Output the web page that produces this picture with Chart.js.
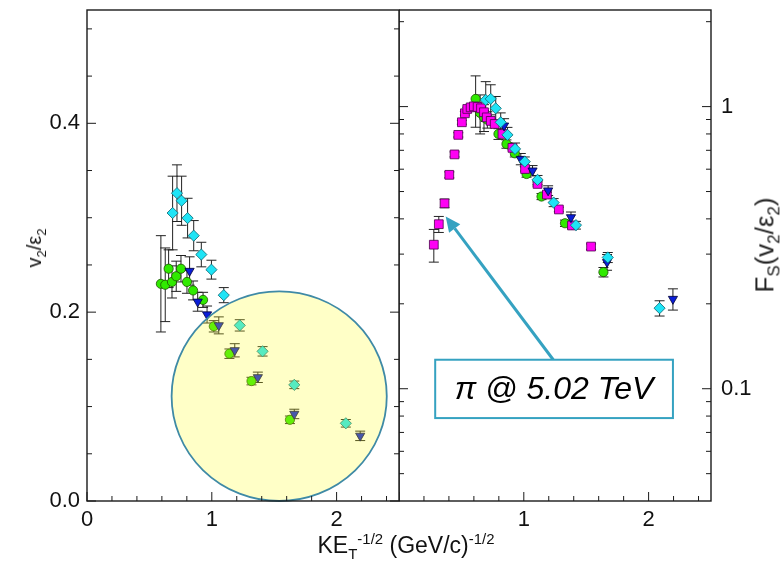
<!DOCTYPE html>
<html>
<head>
<meta charset="utf-8">
<title>v2/eps2 scaling</title>
<script src="https://cdn.jsdelivr.net/npm/chart.js@4.4.1/dist/chart.umd.min.js"></script>
<style>
  body { margin: 0; background: #fff; }
  #wrap { position: relative; width: 781px; height: 577px; font-family: "Liberation Sans", Arial, sans-serif; color: #111; }
  #wrap canvas { position: absolute; top: 0; }
  .lab { position: absolute; white-space: nowrap; line-height: 1.2; }
  .lab sub, .lab sup { font-size: 0.65em; line-height: 0; }
  .rot { transform: translate(-50%, -50%) rotate(-90deg); }
</style>
</head>
<body>
<div id="wrap">
  <canvas id="leftPanel" width="400" height="577" style="left:0"></canvas>
  <canvas id="rightPanel" width="382" height="577" style="left:399px"></canvas>
  <div class="lab rot" style="left:34px; top:248px; font-size:20px">v<sub>2</sub>/ε<sub>2</sub></div>
  <div class="lab rot" style="left:765px; top:245px; font-size:26px; color:#222">F<sub>S</sub>(v<sub>2</sub>/ε<sub>2</sub>)</div>
  <div class="lab" style="left:256px; top:532px; width:300px; text-align:center; font-size:23px">KE<sub>T</sub><sup>-1/2</sup> (GeV/c)<sup>-1/2</sup></div>
</div>
<script>
// --- Axis ticks ---
const xMajorTicks = [0, 1, 2];
const xMinorTicks = [0.2, 0.4, 0.6, 0.8, 1.2, 1.4, 1.6, 1.8, 2.2, 2.4];
const yLinMajor = [0, 0.2, 0.4];
const yLinMinor = [0.05, 0.1, 0.15, 0.25, 0.3, 0.35, 0.45, 0.5];
const yLogMajor = [0.1, 1];
const yLogMinor = [0.05, 0.06, 0.07, 0.08, 0.09, 0.2, 0.3, 0.4, 0.5, 0.6, 0.7, 0.8, 0.9, 2];

// --- Left panel: v2/eps2 vs KE_T^-1/2 ---
const greenX = [0.592, 0.627, 0.654, 0.681, 0.715, 0.753, 0.801, 0.850, 0.930, 1.016, 1.141, 1.318, 1.626];
const greenY = [0.230, 0.229, 0.246, 0.232, 0.238, 0.246, 0.232, 0.223, 0.213, 0.185, 0.156, 0.127, 0.086];
const greenErr = [0.051, 0.039, 0.02, 0.017, 0.016, 0.014, 0.012, 0.01, 0.008, 0.006, 0.005, 0.004, 0.004];

const blueX = [0.822, 0.887, 0.962, 1.056, 1.184, 1.369, 1.661, 2.189];
const blueY = [0.2436, 0.211, 0.1975, 0.186, 0.1596, 0.131, 0.0922, 0.069];
const blueErr = [0.015, 0.01, 0.009, 0.009, 0.007, 0.0055, 0.005, 0.005];

const cyanX = [0.686, 0.721, 0.758, 0.806, 0.855, 0.916, 0.997, 1.096, 1.224, 1.407, 1.661, 2.074];
const cyanY = [0.305, 0.326, 0.318, 0.2996, 0.281, 0.261, 0.245, 0.218, 0.186, 0.1585, 0.123, 0.0823];
const cyanErr = [0.039, 0.03, 0.026, 0.021, 0.016, 0.013, 0.01, 0.008, 0.006, 0.005, 0.004, 0.004];

// --- Right panel: scaled F_S(v2/eps2), log scale ---
const magentaX = [0.279, 0.319, 0.365, 0.403, 0.445, 0.475, 0.504, 0.528, 0.547, 0.574, 0.600, 0.630, 0.657,
                  0.681, 0.703, 0.735, 0.767, 0.829, 0.909, 1.010, 1.110, 1.185, 1.281, 1.386, 1.539];
const magentaY = [0.324, 0.383, 0.454, 0.573, 0.677, 0.794, 0.880, 0.947, 0.981, 0.994, 1.002, 0.997, 0.986,
                  0.955, 0.916, 0.890, 0.868, 0.800, 0.714, 0.601, 0.532, 0.488, 0.432, 0.379, 0.319];
const magentaErr = [0.043, 0.025, 0.016, 0.014, 0.014, 0.014, 0.014, 0.014, 0.014, 0.014, 0.014, 0.014, 0.014,
                    0.014, 0.014, 0.013, 0.013, 0.012, 0.011, 0.01, 0.009, 0.009, 0.008, 0.008, 0.007];

const greenRX = [0.614, 0.650, 0.681, 0.708, 0.797, 0.861, 0.928, 1.022, 1.142, 1.330, 1.638];
const greenRY = [1.065, 0.950, 0.916, 0.899, 0.800, 0.737, 0.683, 0.577, 0.480, 0.386, 0.259];
const greenRErr = [0.22, 0.15, 0.1, 0.06, 0.035, 0.025, 0.02, 0.015, 0.012, 0.01, 0.01];

const cyanRX = [0.695, 0.735, 0.775, 0.815, 0.869, 0.930, 1.008, 1.110, 1.239, 1.418, 1.673, 2.088];
const cyanRY = [1.056, 1.065, 0.986, 0.880, 0.794, 0.708, 0.638, 0.550, 0.457, 0.380, 0.292, 0.193];
const cyanRErr = [0.17, 0.13, 0.1, 0.07, 0.05, 0.035, 0.025, 0.02, 0.015, 0.012, 0.012, 0.012];

const blueRX = [0.842, 0.976, 1.070, 1.195, 1.378, 1.667, 2.195];
const blueRY = [0.856, 0.652, 0.593, 0.504, 0.405, 0.281, 0.208];
const blueRErr = [0.05, 0.03, 0.025, 0.02, 0.018, 0.018, 0.018];

// Highlight ellipse (left panel, data units) and annotation (right panel, data units)
const ringCenter = [1.54, 0.111];
const ringRadius = [0.862, 0.111];
const noteBox = { x0: 0.29, x1: 2.195, y0: 0.0787, y1: 0.1267 };
const noteText = 'π @ 5.02 TeV';
const arrowFrom = [1.236, 0.1267];
const arrowTo = [0.374, 0.408];

const FONT = '"Liberation Sans", Arial, sans-serif';

function toPoints(xs, ys) {
    return xs.map((x, i) => ({ x: x, y: ys[i] }));
}

function series(xs, ys, errs, style) {
    return Object.assign({ data: toPoints(xs, ys), errors: errs, borderWidth: 0.8 }, style);
}

const GREEN = { pointStyle: 'circle', pointRadius: 4.6, backgroundColor: '#30ea00', borderColor: '#1d5200', order: 3 };
const BLUE = { pointStyle: 'triangle', rotation: 180, pointRadius: 5.3, backgroundColor: '#0a1ed8', borderColor: '#000033', order: 1 };
const CYAN = { pointStyle: 'rectRot', pointRadius: 5.6, backgroundColor: '#1ee4f6', borderColor: '#0b6470', order: 0 };
const MAGENTA = { pointStyle: 'rect', pointRadius: 6.2, backgroundColor: '#ff00f4', borderColor: '#4a004a', order: 2 };

// Drop the automatic label padding so the plot area sits exactly where the layout says
function noPadding(s) {
    s.paddingTop = s.paddingBottom = s.paddingLeft = s.paddingRight = 0;
}

// --- Plugins ---

// Box frame with inward-pointing major/minor ticks on every side but the top
const framePlugin = {
    id: 'frame',
    afterDraw(chart, args, opts) {
        const { ctx, chartArea: a } = chart;
        const xs = chart.scales.x, ys = chart.scales.y;
        const line = (x1, y1, x2, y2) => { ctx.beginPath(); ctx.moveTo(x1, y1); ctx.lineTo(x2, y2); ctx.stroke(); };
        ctx.save();
        ctx.strokeStyle = '#1a1a1a';
        ctx.lineWidth = 1;
        [[xMajorTicks, 9], [xMinorTicks, 5]].forEach(([vals, len]) => vals.forEach(v => {
            const px = xs.getPixelForValue(v);
            line(px, a.bottom, px, a.bottom - len);
        }));
        [[opts.yMajor, 9], [opts.yMinor, 5]].forEach(([vals, len]) => vals.forEach(v => {
            const py = ys.getPixelForValue(v);
            line(a.left, py, a.left + len, py);
            line(a.right, py, a.right - len, py);
        }));
        ctx.lineWidth = 1.4;
        ctx.strokeRect(a.left, a.top, a.right - a.left, a.bottom - a.top);
        ctx.restore();
    }
};

// Vertical error bars with caps, drawn beneath the markers
const errorBarPlugin = {
    id: 'errorBars',
    beforeDatasetsDraw(chart) {
        const { ctx } = chart;
        const ys = chart.scales.y;
        const cap = 5;
        ctx.save();
        ctx.strokeStyle = '#222';
        ctx.lineWidth = 1;
        chart.data.datasets.forEach((ds, i) => {
            chart.getDatasetMeta(i).data.forEach((pt, j) => {
                const v = ds.data[j].y, e = ds.errors[j];
                const top = ys.getPixelForValue(v + e), bot = ys.getPixelForValue(v - e);
                ctx.beginPath();
                ctx.moveTo(pt.x, top); ctx.lineTo(pt.x, bot);
                ctx.moveTo(pt.x - cap, top); ctx.lineTo(pt.x + cap, top);
                ctx.moveTo(pt.x - cap, bot); ctx.lineTo(pt.x + cap, bot);
                ctx.stroke();
            });
        });
        ctx.restore();
    }
};

// Translucent yellow highlight over the high-pT points
const ringPlugin = {
    id: 'ring',
    afterDatasetsDraw(chart) {
        const { ctx } = chart;
        const xs = chart.scales.x, ys = chart.scales.y;
        const cx = xs.getPixelForValue(ringCenter[0]), cy = ys.getPixelForValue(ringCenter[1]);
        const rx = xs.getPixelForValue(ringCenter[0] + ringRadius[0]) - cx;
        const ry = cy - ys.getPixelForValue(ringCenter[1] + ringRadius[1]);
        ctx.save();
        ctx.beginPath();
        ctx.ellipse(cx, cy, rx, ry, 0, 0, Math.PI * 2);
        ctx.fillStyle = 'rgba(255, 255, 30, 0.25)';
        ctx.fill();
        ctx.strokeStyle = '#3f8aa6';
        ctx.lineWidth = 1.8;
        ctx.stroke();
        ctx.restore();
    }
};

// Callout box with arrow pointing at the pion data
const notePlugin = {
    id: 'note',
    afterDatasetsDraw(chart) {
        const { ctx } = chart;
        const xs = chart.scales.x, ys = chart.scales.y;
        const teal = '#35a2c1';
        const x0 = xs.getPixelForValue(noteBox.x0), x1 = xs.getPixelForValue(noteBox.x1);
        const y0 = ys.getPixelForValue(noteBox.y1), y1 = ys.getPixelForValue(noteBox.y0);
        const ax = xs.getPixelForValue(arrowFrom[0]), ay = ys.getPixelForValue(arrowFrom[1]);
        const tx = xs.getPixelForValue(arrowTo[0]), ty = ys.getPixelForValue(arrowTo[1]);
        ctx.save();
        // arrow shaft + head
        const ang = Math.atan2(ty - ay, tx - ax);
        const headLen = 15, headW = 7;
        const bx = tx - Math.cos(ang) * headLen, by = ty - Math.sin(ang) * headLen;
        ctx.strokeStyle = teal;
        ctx.lineWidth = 3;
        ctx.beginPath(); ctx.moveTo(ax, ay); ctx.lineTo(bx, by); ctx.stroke();
        ctx.fillStyle = teal;
        ctx.beginPath();
        ctx.moveTo(tx, ty);
        ctx.lineTo(bx + Math.sin(ang) * headW, by - Math.cos(ang) * headW);
        ctx.lineTo(bx - Math.sin(ang) * headW, by + Math.cos(ang) * headW);
        ctx.closePath();
        ctx.fill();
        // box
        ctx.fillStyle = '#fff';
        ctx.fillRect(x0, y0, x1 - x0, y1 - y0);
        ctx.lineWidth = 2;
        ctx.strokeRect(x0, y0, x1 - x0, y1 - y0);
        ctx.fillStyle = '#000';
        ctx.font = 'italic 32px ' + FONT;
        ctx.textAlign = 'center';
        ctx.textBaseline = 'middle';
        ctx.fillText(noteText, (x0 + x1) / 2, (y0 + y1) / 2 + 1);
        ctx.restore();
    }
};

function xAxis(showZero) {
    return {
        type: 'linear', min: 0, max: 2.5,
        afterBuildTicks: s => { s.ticks = xMajorTicks.map(v => ({ value: v })); },
        afterFit: s => { s.height = 76; noPadding(s); },
        grid: { display: false, drawTicks: false },
        border: { display: false },
        ticks: {
            padding: 6, color: '#111', font: { family: FONT, size: 22 },
            callback: v => (v === 0 && !showZero) ? '' : String(v)
        }
    };
}

const baseOptions = {
    responsive: false,
    animation: false,
    events: [],
    plugins: { legend: { display: false }, tooltip: { enabled: false } }
};

// Left panel
new Chart(document.getElementById('leftPanel'), {
    type: 'scatter',
    data: {
        datasets: [
            series(cyanX, cyanY, cyanErr, CYAN),
            series(blueX, blueY, blueErr, BLUE),
            series(greenX, greenY, greenErr, GREEN)
        ]
    },
    options: Object.assign({}, baseOptions, {
        layout: { autoPadding: false, padding: { top: 10, right: 1, left: 0, bottom: 0 } },
        plugins: Object.assign({}, baseOptions.plugins, { frame: { yMajor: yLinMajor, yMinor: yLinMinor } }),
        scales: {
            x: xAxis(true),
            y: {
                type: 'linear', position: 'left', min: 0, max: 0.52,
                afterBuildTicks: s => { s.ticks = yLinMajor.map(v => ({ value: v })); },
                afterFit: s => { s.width = 87; noPadding(s); },
                grid: { display: false, drawTicks: false },
                border: { display: false },
                ticks: { padding: 7, color: '#111', font: { family: FONT, size: 22 }, callback: v => v.toFixed(1) }
            }
        }
    }),
    plugins: [errorBarPlugin, ringPlugin, framePlugin]
});

// Right panel
new Chart(document.getElementById('rightPanel'), {
    type: 'scatter',
    data: {
        datasets: [
            series(cyanRX, cyanRY, cyanRErr, CYAN),
            series(blueRX, blueRY, blueRErr, BLUE),
            series(magentaX, magentaY, magentaErr, MAGENTA),
            series(greenRX, greenRY, greenRErr, GREEN)
        ]
    },
    options: Object.assign({}, baseOptions, {
        layout: { autoPadding: false, padding: { top: 10, right: 0, left: 0, bottom: 0 } },
        plugins: Object.assign({}, baseOptions.plugins, { frame: { yMajor: yLogMajor, yMinor: yLogMinor } }),
        scales: {
            x: xAxis(false),
            y: {
                type: 'logarithmic', position: 'right', min: 0.04, max: 2.2,
                afterBuildTicks: s => { s.ticks = yLogMajor.map(v => ({ value: v })); },
                afterFit: s => { s.width = 70; noPadding(s); },
                grid: { display: false, drawTicks: false },
                border: { display: false },
                ticks: { padding: 10, color: '#111', font: { family: FONT, size: 22 }, callback: v => String(v) }
            }
        }
    }),
    plugins: [errorBarPlugin, notePlugin, framePlugin]
});
</script>
</body>
</html>
